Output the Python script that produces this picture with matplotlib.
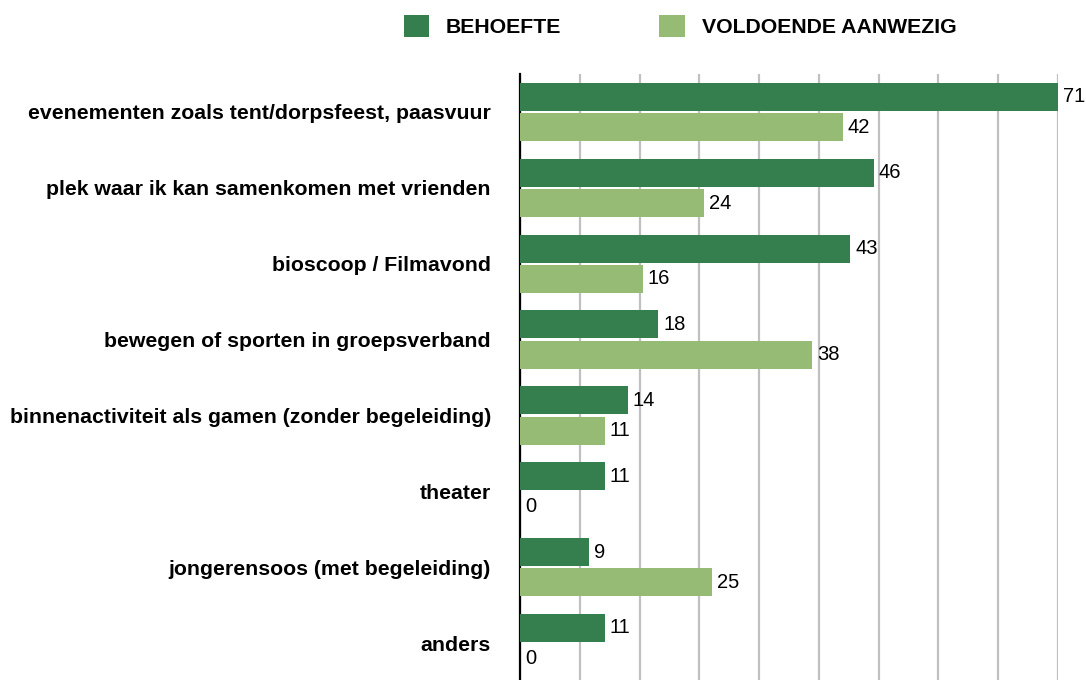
import numpy as np
import matplotlib.pyplot as plt
from matplotlib.patches import Patch

plt.rcParams['font.family'] = ['Liberation Sans', 'DejaVu Sans']

# ---- data ----
categories = [
    'evenementen zoals tent/dorpsfeest, paasvuur',
    'plek waar ik kan samenkomen met vrienden',
    'bioscoop / Filmavond',
    'bewegen of sporten in groepsverband',
    'binnenactiviteit als gamen (zonder begeleiding)',
    'theater',
    'jongerensoos (met begeleiding)',
    'anders',
]
behoefte = [71, 46, 43, 18, 14, 11, 9, 11]
voldoende = [42, 24, 16, 38, 11, 0, 25, 0]
series_names = ['BEHOEFTE', 'VOLDOENDE AANWEZIG']

DARK = '#357F4F'
LIGHT = '#95BB75'
XMAX = 70

fig = plt.figure(figsize=(10.86, 6.8), dpi=100)
ax = fig.add_axes([0.4788, -0.0015, 0.4954, 0.8926])

y = np.arange(len(categories))
h = 0.37
b1 = ax.barh(y - 0.2, behoefte, height=h, color=DARK, zorder=3)
b2 = ax.barh(y + 0.2, voldoende, height=h, color=LIGHT, zorder=3)

# value labels just past the (visible) bar end
for bars, vals in ((b1, behoefte), (b2, voldoende)):
    for rect, v in zip(bars, vals):
        yc = rect.get_y() + rect.get_height() / 2
        ax.annotate(str(v), xy=(min(v, XMAX), yc), xytext=(3.5, 0),
                    textcoords='offset points', ha='left', va='center',
                    fontsize=14.5, color='black', annotation_clip=False)

ax.set_xlim(0, XMAX)
ax.set_ylim(len(categories) - 0.5, -0.5)
ax.set_xticks(np.linspace(0, XMAX, 10))
ax.xaxis.grid(True, color='#c0c0c0', linewidth=1.6, zorder=0)
ax.set_axisbelow(True)
ax.tick_params(axis='x', length=0, labelbottom=False)
ax.tick_params(axis='y', length=0, pad=21)
ax.set_yticks(y)
ax.set_yticklabels(categories, fontsize=15.3, fontweight='bold')

for s in ('top', 'right', 'bottom'):
    ax.spines[s].set_visible(False)
ax.spines['left'].set_linewidth(1.6)
ax.spines['left'].set_color('black')

handles = [Patch(facecolor=DARK, edgecolor='none'),
           Patch(facecolor=LIGHT, edgecolor='none')]
fig.legend(handles, series_names, loc='upper left',
           bbox_to_anchor=(0.354, 1.006), ncol=2, frameon=False,
           prop={'weight': 'bold', 'size': 15.3},
           handlelength=1.2, handleheight=1.2, handletextpad=0.8,
           columnspacing=4.6)

fig.savefig('out.png', dpi=100)
